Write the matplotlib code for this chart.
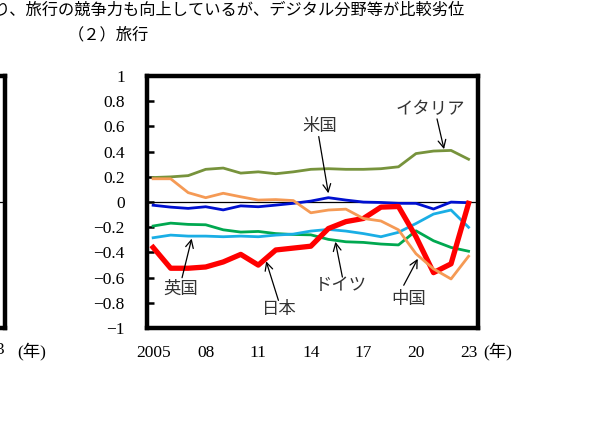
#!/usr/bin/env python3
"""Travel services competitiveness index by country, 2005-2023"""

from matplotlib import pyplot as plt
import numpy as np

years = np.arange(2005, 2024)

japan = [-0.36, -0.525, -0.525, -0.515, -0.475, -0.415, -0.50, -0.38, -0.365, -0.35,
         -0.21, -0.155, -0.13, -0.04, -0.035, -0.275, -0.56, -0.49, -0.01]
us = [-0.025, -0.04, -0.05, -0.037, -0.062, -0.03, -0.037, -0.024, -0.01, 0.008,
      0.035, 0.016, 0.0, -0.003, -0.01, -0.01, -0.055, 0.0, -0.005]
italy = [0.195, 0.20, 0.21, 0.26, 0.27, 0.23, 0.24, 0.225, 0.24, 0.26,
         0.265, 0.26, 0.26, 0.265, 0.28, 0.385, 0.405, 0.41, 0.34]
china = [0.185, 0.185, 0.075, 0.035, 0.07, 0.042, 0.016, 0.02, 0.012, -0.085,
         -0.063, -0.056, -0.13, -0.15, -0.22, -0.41, -0.53, -0.61, -0.43]
uk = [-0.283, -0.262, -0.27, -0.27, -0.275, -0.27, -0.275, -0.262, -0.254, -0.23,
      -0.217, -0.23, -0.25, -0.275, -0.24, -0.17, -0.095, -0.063, -0.2]
germany = [-0.19, -0.167, -0.177, -0.18, -0.22, -0.238, -0.233, -0.25, -0.257, -0.26,
           -0.296, -0.315, -0.32, -0.333, -0.34, -0.228, -0.307, -0.36, -0.39]

xtick_years = [2005, 2008, 2011, 2014, 2017, 2020, 2023]
xtick_labels = ["2005", "08", "11", "14", "17", "20", "23"]
yticks = [1, 0.8, 0.6, 0.4, 0.2, 0, -0.2, -0.4, -0.6, -0.8, -1]

title = "り、旅行の競争力も向上しているが、デジタル分野等が比較劣位"
subtitle = "（２）旅行"

# (label, text position, arrow tail, arrow head)
notes = [
    ("イタリア", (2020.8, 0.74), (2021.2, 0.66), (2021.6, 0.42)),
    ("米国", (2014.5, 0.60), (2014.45, 0.52), (2015.0, 0.07)),
    ("英国", (2006.6, -0.69), (2006.65, -0.60), (2007.2, -0.29)),
    ("日本", (2012.2, -0.85), (2012.15, -0.78), (2011.45, -0.47)),
    ("ドイツ", (2015.7, -0.66), (2015.8, -0.595), (2015.4, -0.315)),
    ("中国", (2019.6, -0.77), (2019.3, -0.66), (2020.1, -0.45)),
]

JP = ["Noto Sans CJK JP", "DejaVu Sans"]
NUM = ["Liberation Serif", "Noto Sans CJK JP"]

fig = plt.figure(figsize=(6, 4.25), dpi=100)
fig.patch.set_facecolor("white")

ax = fig.add_axes([0.245, 0.228, 0.552, 0.593])

ax.axhline(0, color="black", lw=0.9, zorder=1)
ax.plot(years, italy, color="#77933C", lw=2.0, zorder=2)
ax.plot(years, us, color="#0010D0", lw=2.0, zorder=2)
ax.plot(years, germany, color="#00A850", lw=2.0, zorder=2)
ax.plot(years, uk, color="#1AAEE5", lw=2.0, zorder=2)
ax.plot(years, japan, color="#FF0000", lw=3.8, zorder=3)
ax.plot(years, china, color="#F59A55", lw=2.0, zorder=4)

ax.set_xlim(2004.65, 2023.55)
ax.set_ylim(-1, 1)

ax.set_yticks(yticks)
ax.set_yticklabels(["1" if v == 1 else "-1" if v == -1 else "0" if v == 0 else f"{v:.1f}"
                    for v in yticks], family=NUM, fontsize=12.5)
ax.set_yticklabels([t.get_text().replace("-", "\u2212") for t in ax.get_yticklabels()],
                   family=NUM, fontsize=12.5)
ax.set_xticks(xtick_years)
ax.set_xticklabels(xtick_labels, family=NUM, fontsize=12.5)

ax.tick_params(axis="y", direction="in", length=5, width=1.8, pad=16)
ax.tick_params(axis="x", length=0, pad=12)
for s in ax.spines.values():
    s.set_linewidth(3.2)

for label, txt, tail, head in notes:
    ax.annotate("", xy=head, xytext=tail,
                arrowprops=dict(arrowstyle="->", color="black", lw=0.9,
                                mutation_scale=14, shrinkA=0, shrinkB=0))
    ax.text(txt[0], txt[1], label, family=JP, fontsize=12.5, color="#333333",
            ha="center", va="center")

# partial neighbouring panel at the left edge
ax_left = fig.add_axes([-0.3, 0.228, 0.308, 0.593])
ax_left.set_ylim(-1, 1)
ax_left.axhline(0, color="black", lw=0.9)
ax_left.set_xticks([])
ax_left.set_yticks([])
for s in ax_left.spines.values():
    s.set_linewidth(3.2)

fig.text(0.0, 0.176, "3", family=NUM, fontsize=12.5, ha="center", va="center")
fig.text(0.028, 0.172, "(年)", family=NUM, fontsize=12.5, ha="left", va="center")
fig.text(0.805, 0.172, "(年)", family=NUM, fontsize=12.5, ha="left", va="center")

fig.text(-0.01, 0.976, title, family=JP, fontsize=11.7, ha="left", va="center")
fig.text(0.113, 0.918, subtitle, family=JP, fontsize=11.7, ha="left", va="center")

fig.savefig("out.png", dpi=100)
